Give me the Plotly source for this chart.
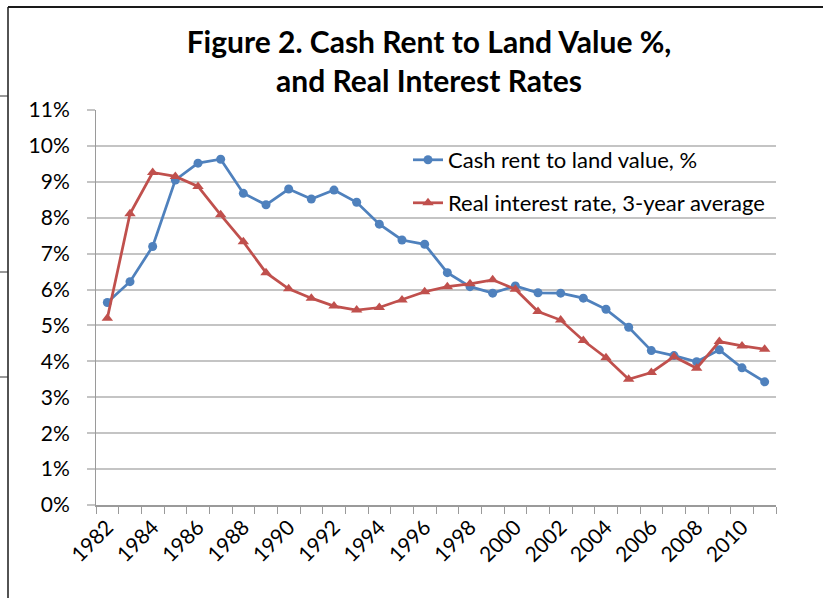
import plotly.graph_objects as go

# data (percent)
years = list(range(1982, 2012))
cash_rent = [5.64, 6.22, 7.20, 9.05, 9.52, 9.63, 8.68, 8.36, 8.80, 8.52,
             8.77, 8.43, 7.82, 7.38, 7.26, 6.47, 6.08, 5.90, 6.10, 5.91,
             5.90, 5.76, 5.45, 4.95, 4.30, 4.16, 3.99, 4.32, 3.82, 3.43]
real_rate = [5.20, 8.11, 9.26, 9.15, 8.87, 8.08, 7.33, 6.47, 6.02, 5.76,
             5.54, 5.43, 5.50, 5.71, 5.94, 6.08, 6.16, 6.27, 6.01, 5.39,
             5.15, 4.58, 4.10, 3.50, 3.69, 4.13, 3.81, 4.55, 4.43, 4.34]
label_years = years[::2]

W, H = 823, 598
L, R, T, B = 96, 776, 110, 505
FONT = "Lato"
BLUE = "#4F81BD"
RED = "#C0504D"


def px(x):
    return (x - L) / (R - L)


def py(y):
    return (B - y) / (B - T)


fig = go.Figure()

fig.add_trace(go.Scatter(
    x=years, y=cash_rent, name="Cash rent to land value, %",
    mode="lines+markers",
    line=dict(color=BLUE, width=2.75),
    marker=dict(symbol="circle", size=9, color=BLUE),
    legend="legend", showlegend=True,
))
fig.add_trace(go.Scatter(
    x=years, y=real_rate, name="Real interest rate, 3-year average",
    mode="lines+markers",
    line=dict(color=RED, width=2.75),
    marker=dict(symbol="triangle-up", size=10, color=RED),
    legend="legend2", showlegend=True,
))

legend_style = dict(
    font=dict(family=FONT, size=22, color="#000000"),
    bgcolor="rgba(0,0,0,0)", xanchor="left", yanchor="middle",
    itemwidth=30,
)

# sheet frame around the chart
frame = [
    dict(x0=px(8), x1=px(W), y0=py(7), y1=py(7), width=2, color="#1a1a1a"),
    dict(x0=px(8), x1=px(8), y0=py(7), y1=py(H), width=1.5, color="#1a1a1a"),
    dict(x0=px(0), x1=px(8), y0=py(96), y1=py(96), width=1, color="#333333"),
    dict(x0=px(0), x1=px(8), y0=py(272), y1=py(272), width=1, color="#333333"),
    dict(x0=px(0), x1=px(8), y0=py(377), y1=py(377), width=1, color="#333333"),
]
shapes = [dict(type="line", xref="paper", yref="paper",
               x0=f["x0"], x1=f["x1"], y0=f["y0"], y1=f["y1"],
               line=dict(color=f["color"], width=f["width"]))
          for f in frame]

fig.update_layout(
    width=W, height=H,
    margin=dict(l=L, r=W - R, t=T, b=H - B),
    paper_bgcolor="white", plot_bgcolor="white",
    font=dict(family=FONT, size=21, color="#000000"),
    showlegend=True,
    title=dict(
        text="<b>Figure 2. Cash Rent to Land Value %,<br>and Real Interest Rates</b>",
        font=dict(family=FONT, size=30, color="#000000"),
        x=429 / W, xref="container", xanchor="center",
        y=1 - 53 / H, yref="container", yanchor="middle",
    ),
    legend=dict(x=px(408), y=py(160), **legend_style),
    legend2=dict(x=px(408), y=py(203), **legend_style),
    shapes=shapes,
)

fig.update_xaxes(
    range=[1981.5, 2011.5],
    tickmode="array", tickvals=label_years,
    ticktext=[str(y) for y in label_years],
    tickangle=-45, ticks="", showgrid=False, zeroline=False,
    showline=True, linecolor="#9a9a9a", linewidth=1.5,
    tickfont=dict(family=FONT, size=21, color="#000000"),
    minor=dict(tickmode="linear", tick0=1981.5, dtick=1, ticks="outside",
               ticklen=7, tickcolor="#9a9a9a", tickwidth=1, showgrid=False),
)
fig.update_yaxes(
    range=[0, 11], dtick=1, ticksuffix="%",
    showgrid=True, gridcolor="#c4c4c4", gridwidth=1.5, zeroline=False,
    showline=True, linecolor="#9a9a9a", linewidth=1,
    ticks="outside", ticklen=8, tickcolor="#c4c4c4", tickwidth=1.5,
    ticklabelstandoff=13,
    tickfont=dict(family=FONT, size=21, color="#000000"),
)

# drop the page's default body margin so the figure sits at the window origin
fig.write_html("out.html", config={"displayModeBar": False},
               post_script="document.body.style.margin='0';")
